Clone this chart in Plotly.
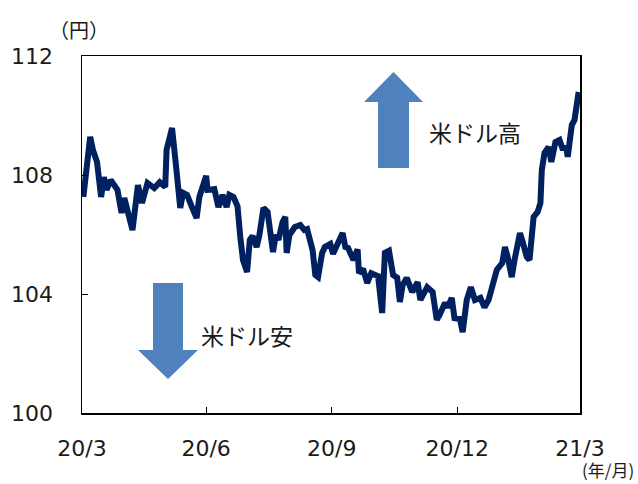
import plotly.graph_objects as go

dates = [
    "2020-04-01", "2020-04-06", "2020-04-08", "2020-04-11", "2020-04-14", "2020-04-16", "2020-04-18",
    "2020-04-21", "2020-04-26", "2020-04-29", "2020-05-01", "2020-05-03", "2020-05-07", "2020-05-11",
    "2020-05-14", "2020-05-18", "2020-05-23", "2020-05-27", "2020-05-31", "2020-06-01", "2020-06-05",
    "2020-06-08", "2020-06-11", "2020-06-13", "2020-06-16", "2020-06-19", "2020-06-23", "2020-06-25",
    "2020-06-30", "2020-07-01", "2020-07-06", "2020-07-09", "2020-07-12", "2020-07-15", "2020-07-17",
    "2020-07-20", "2020-07-23", "2020-07-25", "2020-07-27", "2020-07-30", "2020-08-01", "2020-08-03",
    "2020-08-06", "2020-08-08", "2020-08-11", "2020-08-14", "2020-08-16", "2020-08-18", "2020-08-20",
    "2020-08-22", "2020-08-25", "2020-08-27", "2020-08-28", "2020-08-30", "2020-09-03", "2020-09-07",
    "2020-09-10", "2020-09-12", "2020-09-16", "2020-09-18", "2020-09-20", "2020-09-23", "2020-09-25",
    "2020-09-29", "2020-10-01", "2020-10-04", "2020-10-08", "2020-10-10", "2020-10-12", "2020-10-16",
    "2020-10-19", "2020-10-20", "2020-10-23", "2020-10-26", "2020-10-29", "2020-11-01", "2020-11-03",
    "2020-11-06", "2020-11-08", "2020-11-11", "2020-11-14", "2020-11-17", "2020-11-19", "2020-11-21",
    "2020-11-24", "2020-11-28", "2020-11-30", "2020-12-02", "2020-12-04", "2020-12-06", "2020-12-09",
    "2020-12-13", "2020-12-16", "2020-12-18", "2020-12-22", "2020-12-24", "2020-12-27", "2020-12-29",
    "2021-01-02", "2021-01-04", "2021-01-07", "2021-01-10", "2021-01-13", "2021-01-17", "2021-01-20",
    "2021-01-23", "2021-01-26", "2021-01-29", "2021-02-02", "2021-02-04", "2021-02-06", "2021-02-09",
    "2021-02-11", "2021-02-15", "2021-02-17", "2021-02-20", "2021-02-22", "2021-02-25", "2021-02-28",
    "2021-03-02", "2021-03-03", "2021-03-05", "2021-03-08", "2021-03-10", "2021-03-13", "2021-03-16",
    "2021-03-18", "2021-03-21", "2021-03-22", "2021-03-25", "2021-03-27", "2021-03-29", "2021-03-30",
]

usdjpy = [
    107.26, 109.28, 108.84, 108.44, 107.26, 107.93, 107.50,
    107.83, 107.50, 106.72, 107.23, 106.80, 106.15, 107.66,
    107.06, 107.73, 107.56, 107.76, 107.60, 108.84, 109.58,
    108.27, 106.89, 107.40, 107.33, 106.99, 106.55, 107.26,
    107.97, 107.50, 107.53, 106.92, 107.33, 106.92, 107.33,
    107.26, 106.95, 105.92, 105.14, 104.74, 105.82, 105.95,
    105.58, 105.98, 106.89, 106.76, 106.15, 105.41, 105.98,
    105.82, 106.42, 106.59, 105.38, 105.98, 106.25, 106.32,
    106.15, 106.18, 105.48, 104.64, 104.57, 105.38, 105.58,
    105.68, 105.35, 105.71, 106.05, 105.58, 105.55, 105.14,
    105.50, 104.70, 104.85, 104.37, 104.70, 104.64, 104.60,
    103.36, 105.38, 105.45, 104.64, 104.55, 103.73, 104.30,
    104.54, 104.07, 104.20, 104.40, 103.80, 103.95, 104.23,
    104.07, 103.13, 103.29, 103.70, 103.55, 103.87, 103.19,
    103.16, 102.72, 103.80, 104.23, 103.80, 103.87, 103.55,
    103.80, 104.37, 104.81, 105.04, 105.58, 105.24, 104.57,
    105.14, 106.05, 105.75, 105.24, 105.14, 106.59, 106.76,
    107.06, 108.17, 108.74, 108.94, 108.44, 109.11, 109.18,
    108.91, 108.91, 108.61, 109.68, 109.85, 110.69, 110.79,
]

tick_dates = ["2020-03-31", "2020-06-30", "2020-09-30", "2020-12-31", "2021-03-31"]
tick_labels = ["20/3", "20/6", "20/9", "20/12", "21/3"]
y_ticks = [100, 104, 108, 112]

LINE = "#002060"
ARROW = "#4F81BD"
FONT = "DejaVu Sans"
JP = "Noto Sans CJK JP"

fig = go.Figure()
fig.add_trace(go.Scatter(
    x=dates, y=usdjpy, mode="lines",
    line=dict(color=LINE, width=6), showlegend=False, hoverinfo="skip",
))

W, H = 638, 484
L, R, T, B = 82, 58, 56, 71

def px(x, y):
    return (x - L) / (W - L - R), (H - B - y) / (H - T - B)

def path(points):
    parts = []
    for i, (x, y) in enumerate(points):
        a, b = px(x, y)
        parts.append(("M" if i == 0 else "L") + f"{a:.4f},{b:.4f}")
    return " ".join(parts) + " Z"

up_arrow = [(378, 168), (378, 102), (364, 102), (393.5, 72), (423, 102), (409, 102), (409, 168)]
down_arrow = [(153, 283), (183, 283), (183, 350), (198, 350), (168, 379), (138, 350), (153, 350)]

for pts in (up_arrow, down_arrow):
    fig.add_shape(type="path", xref="paper", yref="paper", path=path(pts),
                  fillcolor=ARROW, line=dict(width=0), layer="below")

ann = []
a, b = px(427, 132)
ann.append(dict(x=a, y=b, xref="paper", yref="paper", text="米ドル高", showarrow=False,
                xanchor="left", yanchor="middle", font=dict(family=JP, size=23, color="#1a1a1a")))
a, b = px(199, 335)
ann.append(dict(x=a, y=b, xref="paper", yref="paper", text="米ドル安", showarrow=False,
                xanchor="left", yanchor="middle", font=dict(family=JP, size=23, color="#1a1a1a")))
a, b = px(79, 29)
ann.append(dict(x=a, y=b, xref="paper", yref="paper", text="（円）", showarrow=False,
                xanchor="center", yanchor="middle", font=dict(family=JP, size=20, color="#1a1a1a")))
a, b = px(635, 483)
ann.append(dict(x=a, y=b, xref="paper", yref="paper", text="(年/月)", showarrow=False,
                xanchor="right", yanchor="bottom", borderpad=0,
                font=dict(family=JP, size=17, color="#1a1a1a")))

fig.update_layout(
    width=W, height=H,
    margin=dict(l=L, r=R, t=T, b=B, autoexpand=False),
    paper_bgcolor="white", plot_bgcolor="white",
    annotations=ann,
    xaxis=dict(
        type="date", range=[tick_dates[0], tick_dates[-1]],
        tickmode="array", tickvals=tick_dates, ticktext=tick_labels,
        ticks="inside", ticklen=6, tickcolor="#000", tickwidth=1,
        showline=True, linecolor="#000", linewidth=1.5, mirror=True,
        showgrid=False, zeroline=False, automargin=False,
        tickfont=dict(family=FONT, size=22, color="#1a1a1a"),
        ticklabelstandoff=15,
    ),
    yaxis=dict(
        range=[100, 112], tickmode="array", tickvals=y_ticks,
        ticks="inside", ticklen=6, tickcolor="#000", tickwidth=1,
        showline=True, linecolor="#000", linewidth=1.5, mirror=True,
        showgrid=False, zeroline=False, automargin=False,
        tickfont=dict(family=FONT, size=22, color="#1a1a1a"),
        ticklabelstandoff=23,
    ),
)

fig.write_html("out.html", config={"displayModeBar": False, "staticPlot": True})

with open("out.html", "r", encoding="utf-8") as f:
    html = f.read()
html = html.replace("<head>", "<head><style>html,body{margin:0;padding:0;overflow:hidden}</style>", 1)
with open("out.html", "w", encoding="utf-8") as f:
    f.write(html)
